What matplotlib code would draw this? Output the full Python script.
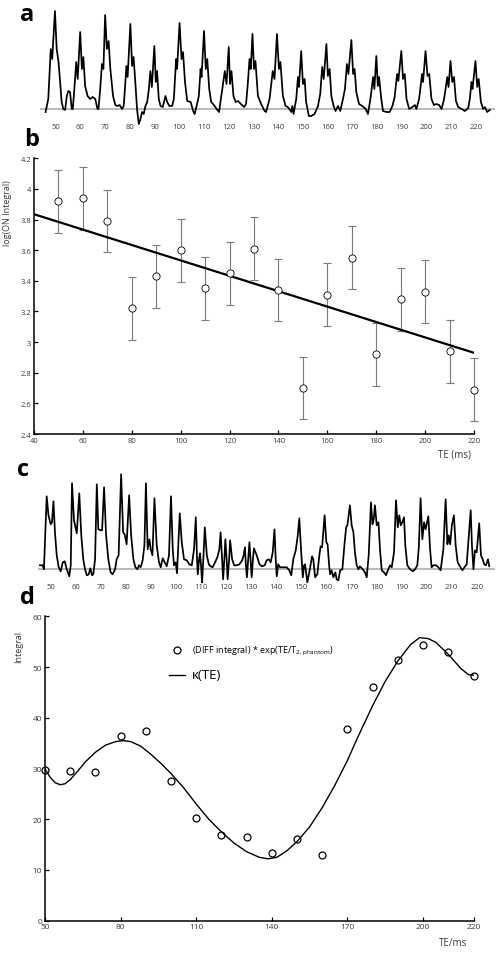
import matplotlib
matplotlib.use("Agg")
import matplotlib.pyplot as plt

plt.rcParams['font.family'] = ['Open Sans', 'DejaVu Sans']
plt.rcParams['mathtext.fontset'] = 'custom'
plt.rcParams['mathtext.rm'] = 'Open Sans'

# ---- panel a: stacked ON spectra (TE position, signal) ----
a_te = [45.9, 47.0, 48.0, 48.6, 49.7, 50.4, 51.1, 51.8, 52.4, 53.1, 53.8, 54.5, 55.1, 55.8, 56.5,
        56.9, 57.4, 58.3, 58.9, 59.9, 60.6, 61.2, 61.9, 62.9, 63.9, 65.0, 66.0, 66.9,
        67.3, 68.0, 68.7, 69.3, 70.0, 70.7, 71.4, 72.1, 73.2, 74.1, 75.0, 75.9, 76.8,
        77.5, 78.0, 78.6, 79.1, 80.2, 80.9, 81.5, 82.2, 82.9, 83.6, 84.3, 84.9, 85.6, 86.3,
        87.0, 87.6, 88.3, 88.9, 89.9, 90.5, 91.0, 91.7, 92.4, 93.3, 94.4, 95.1, 96.0, 97.1,
        97.8, 98.7, 99.1, 100.1, 100.9, 101.5, 102.3, 103.2, 104.6, 105.6, 106.2, 107.0,
        107.9, 108.6, 109.0, 110.0, 110.7, 111.3, 112.1, 112.9, 114.0, 115.1, 116.1,
        116.8, 117.4, 118.4, 119.1, 120.0, 120.5, 121.1, 121.9, 122.8, 123.8, 124.9, 126.2,
        127.0, 127.7, 128.4, 128.9, 129.6, 130.2, 130.8, 131.8, 133.1, 134.5, 135.1,
        136.5, 137.8, 138.5, 139.5, 140.3, 140.9, 141.9, 143.0, 143.9, 145.3, 145.7, 146.2,
        147.3, 148.0, 148.4, 149.3, 150.0, 150.7, 151.3, 152.4, 153.4, 154.7, 156.1,
        157.0, 157.8, 158.4, 159.5, 160.1, 160.8, 161.5, 162.4, 163.2, 164.2, 165.1,
        166.2, 167.0, 167.8, 168.4, 169.6, 170.3, 170.9, 171.6, 172.7, 174.0, 175.4, 176.3,
        177.3, 178.4, 178.9, 179.7, 180.3, 180.8, 181.7, 182.4, 183.8, 185.1, 186.2,
        187.1, 188.1, 188.6, 189.8, 190.5, 191.2, 191.9, 193.0, 194.3, 195.3, 195.9,
        197.0, 198.2, 198.6, 199.6, 200.4, 201.1, 202.0, 203.0, 204.0, 205.1, 206.1,
        207.1, 208.4, 208.9, 209.7, 210.4, 211.1, 211.9, 212.8, 214.2, 215.5, 216.9,
        217.5, 218.2, 218.6, 219.8, 220.5, 221.1, 222.0, 222.9, 223.6, 224.5, 225.6]
a_sig = [-3, 10, 60, 50, 98, 60, 48, 27, 7, 0, -1, 13, 18, 17, 0,
         0, 15, 47, 30, 77, 40, 52, 23, 13, 10, 12, 10, 0,
         0, 20, 45, 40, 94, 60, 68, 40, 13, 4, 3, 4, 0,
         3, 20, 43, 32, 85, 43, 52, 27, 0, -15, -10, -3, -5, 3,
         7, 18, 38, 22, 63, 27, 38, 10, 3, 2, 13, 7, 3, 3,
         10, 50, 40, 86, 50, 57, 27, 8, 7, -2, -5, 3,
         13, 40, 32, 78, 40, 50, 20, 7, 4, 0, -3,
         10, 20, 38, 25, 62, 25, 38, 13, 7, 8, 5, 2,
         5, 25, 50, 40, 75, 40, 48, 13, 5, -2, -3,
         10, 38, 30, 75, 40, 47, 13, 3, 2, -3, 3, -5,
         10, 32, 22, 58, 25, 30, 7, -7, -7, -5, 3,
         15, 42, 30, 65, 33, 40, 13, 3, -2, 3, -2,
         10, 20, 45, 35, 69, 35, 40, 17, 5, 3, 0, -5,
         10, 32, 20, 53, 23, 32, 10, -2, -3, -3, 3,
         12, 35, 28, 58, 30, 35, 10, 0, 2, 4, 0,
         10, 35, 27, 58, 33, 35, 10, 4, 5, 4, 0,
         10, 32, 22, 48, 27, 32, 8, 2, 0, -2, 1,
         10, 27, 20, 48, 22, 30, 7, 0, 2, -3, -1]

# ---- panel b: log(ON integral) vs TE ----
b_te = [50, 60, 70, 80, 90, 100, 110, 120, 130, 140, 150, 160, 170, 180, 190, 200, 210, 220]
b_val = [3.92, 3.94, 3.79, 3.22, 3.43, 3.60, 3.35, 3.45, 3.61, 3.34, 2.70, 3.31, 3.55,
         2.92, 3.28, 3.33, 2.94, 2.69]
b_err = [0.205] * 18
b_fit_te = [40, 220]
b_fit_val = [3.835, 2.93]

# ---- panel c: stacked DIFF spectra ----
c_te = [45.7, 46.8, 47.3,
        48.4, 49.1, 50.0, 50.5, 51.1, 51.7, 52.4, 53.2, 54.0, 54.8, 55.6, 56.4, 56.9, 57.4,
        58.0, 58.5, 59.3, 60.4, 61.4, 62.2, 63.0, 63.7, 64.4, 65.2, 65.8, 66.5, 67.0,
        67.7, 68.4, 69.0, 70.0, 70.5, 71.3, 72.1, 73.0, 73.9, 74.7, 75.7,
        76.3, 77.1, 78.1, 78.9, 79.5, 80.3, 81.3, 82.1, 83.0, 83.8, 84.6, 85.2, 85.9, 86.7,
        87.4, 88.0, 88.7, 89.4, 89.9, 90.6, 91.4, 92.3, 93.2, 93.9, 94.7, 95.5, 96.3,
        97.2, 98.0, 98.7, 99.2, 99.9, 100.4, 101.5, 102.3, 103.2, 104.3, 105.3, 106.3,
        107.2, 107.9, 108.4, 108.7, 109.2, 109.6, 110.1, 110.4, 110.9, 111.5, 112.3, 113.1,
        113.8, 114.6, 115.6,
        116.5, 117.3, 117.8, 118.4, 118.8, 119.3, 119.7, 120.2, 120.6, 121.2, 121.6, 122.4,
        123.2, 124.2, 125.3, 126.4,
        127.0, 127.5, 127.9, 128.3, 128.8, 129.3, 129.8, 130.2, 130.7, 131.1, 132.2, 133.3,
        134.3, 135.4,
        136.2, 137.0, 137.8, 138.6, 139.3, 139.8, 140.2, 140.8, 141.5, 142.8, 144.2, 145.2, 146.0,
        146.8, 147.8, 148.6, 149.2, 149.9, 150.6, 151.1, 151.5, 152.4, 153.2, 154.3, 154.8,
        155.5, 156.4,
        157.2, 157.7, 158.3, 159.3, 160.0, 160.5, 161.1, 161.5, 162.1, 162.8, 163.6, 164.1,
        164.8, 165.5, 166.4,
        167.2, 167.9, 168.4, 169.4, 170.1, 170.8, 171.4, 172.1, 172.8, 173.4, 174.5, 175.4, 176.1,
        176.9, 177.8, 178.4, 178.9, 179.4, 180.1, 180.8, 181.4, 182.1, 183.0, 183.8, 184.7,
        185.4, 186.1,
        187.0, 187.8, 188.5, 189.1, 189.7, 190.3, 191.0, 191.5, 192.3, 193.4, 194.5, 195.4, 196.3,
        196.9, 197.6, 198.3, 199.0, 199.6, 200.7, 201.4, 202.0, 202.7, 203.8, 204.7, 205.6,
        206.7, 207.6, 208.3, 208.8, 209.4, 210.1, 210.9, 211.6, 212.4, 213.3, 214.3, 215.1, 216.0,
        216.8, 217.6, 218.1, 218.7, 219.3, 220.0, 221.0, 221.7, 222.4, 223.0, 223.7, 224.5, 225.0]
c_sig = [4, 4, 0,
         73, 54, 45, 47, 68, 37, 14, 2, -2, 7, 8, 0, -3, -7,
         4, 86, 49, 36, 76, 34, 10, 0, -6, -5, 1, -6, -5,
         10, 85, 40, 39, 39, 82, 34, 10, -3, -5, 0,
         10, 14, 95, 37, 35, 25, 74, 34, 10, 2, 0, 4, 2, 9,
         24, 86, 20, 30, 20, 14, 71, 24, 7, 2, 11, 7, 3,
         14, 73, 20, 4, 7, -4, 56, 27, 10, 9, 5, 4,
         20, 52, 10, -5, 10, 16, 0, -13, 10, 42, 14, 5,
         3, 2, 7,
         12, 20, 37, 10, -10, 10, 30, 10, -10, 10, 29, 10,
         4, 4, 5, 9,
         14, 22, 4, -8, 10, 27, 7, -8, 10, 21, 14, 5,
         3, 4,
         9, 10, 7, 17, 40, 10, -7, 5, 2, 2, 2, -1, -6,
         10, 19, 34, 51, 20, -8, 4, 5, -13, -3, 13, 10,
         -8, -5,
         14, 23, 22, 54, 27, 25, 4, -5, -1, -8, -3, -10,
         -11, -1, 0,
         24, 42, 44, 64, 44, 37, 17, 4, 0, 3, 0, -3, -8,
         14, 67, 45, 50, 64, 44, 47, 20, -1, -3, -6, 0,
         4, 2,
         17, 69, 42, 54, 44, 47, 52, 24, 4, 0, -2, 0, 4,
         22, 71, 30, 47, 40, 53, 20, 2, 4, 4, 2, -1,
         20, 70, 25, 34, 25, 44, 54, 24, 7, 3, -1, 2, 5,
         32, 59, 24, 0, 19, 17, 46, 14, 10, 5, 4, 10, 3]

# ---- panel d: corrected DIFF integral and kappa(TE) ----
d_te = [50, 60, 70, 80, 90, 100, 110, 120, 130, 140, 150, 160, 170, 180, 190, 200, 210, 220]
d_val = [29.7, 29.5, 29.3, 36.5, 37.3, 27.6, 20.2, 16.8, 16.5, 13.3, 16.1, 12.9, 37.8,
         46.0, 51.4, 54.4, 52.9, 48.3]
kappa_te = [50, 52, 54, 56, 58, 60, 63, 66, 70, 74, 78, 81, 84, 88, 92, 96, 100, 105, 110,
            115, 120, 125, 130, 135, 138.5, 142, 146, 150, 155, 160, 165, 170, 173.3, 176,
            180, 185, 190, 195, 198.6, 202, 205, 210, 215, 218, 220]
kappa_val = [29.9, 28.3, 27.2, 26.8, 27.0, 27.8, 29.5, 31.3, 33.2, 34.6, 35.3, 35.5, 35.3,
             34.4, 32.8, 31.0, 29.0, 26.2, 23.0, 20.0, 17.5, 15.3, 13.6, 12.5, 12.2, 12.5,
             13.8, 15.6, 18.5, 22.3, 26.7, 31.6, 35.3, 38.2, 42.4, 47.2, 51.2, 54.4, 55.8,
             55.6, 54.9, 52.5, 49.7, 48.5, 48.4]

spec_ticks = list(range(50, 230, 10))
tick_col = '#3a3a3a'

fig = plt.figure(figsize=(5.02, 9.54), dpi=100)


def spectrum_axes(rect, xlim, ylim, te, sig, pad):
    ax = fig.add_axes(rect)
    ax.axhline(0, color='#a6a6a6', lw=1.1, zorder=1)
    ax.plot(te, sig, color='black', lw=1.25, clip_on=False, zorder=2,
            solid_joinstyle='round')
    ax.set_xlim(*xlim)
    ax.set_ylim(*ylim)
    for s in ax.spines.values():
        s.set_visible(False)
    ax.set_yticks([])
    ax.set_xticks(spec_ticks)
    ax.tick_params(axis='x', length=0, pad=pad, labelsize=5.5, labelcolor=tick_col)
    return ax


# panel a
spectrum_axes([40 / 502, 1 - 122 / 954, 455 / 502, 114 / 954], (43.65, 227.7), (-12, 102),
              a_te, a_sig, 1.5)

# panel b
axb = fig.add_axes([34 / 502, 1 - 435 / 954, 440 / 502, 275.7 / 954])
eb = axb.errorbar(b_te, b_val, yerr=b_err, fmt='none', ecolor='#7a7a7a', elinewidth=0.8,
                  capsize=3.2, capthick=0.8, zorder=2)
for art in eb.lines[1] + eb.lines[2]:
    art.set_clip_on(False)
axb.plot(b_fit_te, b_fit_val, color='black', lw=1.6, zorder=3)
axb.plot(b_te, b_val, 'o', ms=5.2, mfc='white', mec='black', mew=0.6, zorder=4,
         clip_on=False)
axb.set_xlim(40, 220)
axb.set_ylim(2.4, 4.2)
axb.set_xticks(range(40, 240, 20))
axb.set_yticks([2.4, 2.6, 2.8, 3.0, 3.2, 3.4, 3.6, 3.8, 4.0, 4.2])
axb.set_yticklabels(['2.4', '2.6', '2.8', '3', '3.2', '3.4', '3.6', '3.8', '4', '4.2'])
axb.spines['top'].set_visible(False)
axb.spines['right'].set_visible(False)
axb.spines['left'].set_linewidth(1.1)
axb.spines['bottom'].set_linewidth(1.1)
axb.tick_params(direction='in', length=3, width=0.9, labelsize=5.5, labelcolor=tick_col, pad=2)
axb.set_ylabel('log(ON Integral)', fontsize=6.5, color=tick_col)
axb.yaxis.set_label_coords(-0.05, 0.805)
axb.set_xlabel('TE (ms)', fontsize=7, color=tick_col)
axb.xaxis.set_label_coords(0.955, -0.054)

# panel c
spectrum_axes([38 / 502, 1 - 582 / 954, 457 / 502, 114 / 954], (44.93, 227.3), (-11.7, 102.3),
              c_te, c_sig, 1.2)

# panel d
axd = fig.add_axes([45 / 502, 1 - 921.7 / 954, 428.5 / 502, 304.4 / 954])
pts, = axd.plot(d_te, d_val, 'o', ms=5.0, mfc='white', mec='black', mew=0.9, ls='none',
                clip_on=False,
                label=r'(DIFF integral) * exp(TE/T$_{\mathregular{2,phantom}}$)')
crv, = axd.plot(kappa_te, kappa_val, color='black', lw=1.0, label='\u03ba(TE)')
axd.set_xlim(50, 220)
axd.set_ylim(0, 60)
axd.set_xticks([50, 80, 110, 140, 170, 200, 220])
axd.set_yticks(range(0, 70, 10))
axd.spines['top'].set_visible(False)
axd.spines['right'].set_visible(False)
axd.spines['left'].set_linewidth(1.1)
axd.spines['bottom'].set_linewidth(1.1)
axd.tick_params(direction='in', length=3, width=0.9, labelsize=6, labelcolor=tick_col, pad=2)
axd.set_ylabel('Integral', fontsize=6.5, color=tick_col)
axd.yaxis.set_label_coords(-0.052, 0.903)
axd.set_xlabel('TE/ms', fontsize=7, color=tick_col)
axd.xaxis.set_label_coords(0.952, -0.052)
leg = axd.legend(handles=[pts, crv], loc='upper left', bbox_to_anchor=(0.27, 0.935),
                 frameon=False, fontsize=6.5, handlelength=1.8, handletextpad=0.8,
                 labelspacing=1.2)
leg.get_texts()[1].set_fontsize(9.5)

# panel letters
for letter, x, y in [('a', 26.7, 15), ('b', 31.7, 140), ('c', 23, 470), ('d', 27, 598)]:
    fig.text(x / 502, 1 - y / 954, letter, fontsize=17, fontweight='bold',
             ha='center', va='center')

fig.savefig('out.png', dpi=100)
